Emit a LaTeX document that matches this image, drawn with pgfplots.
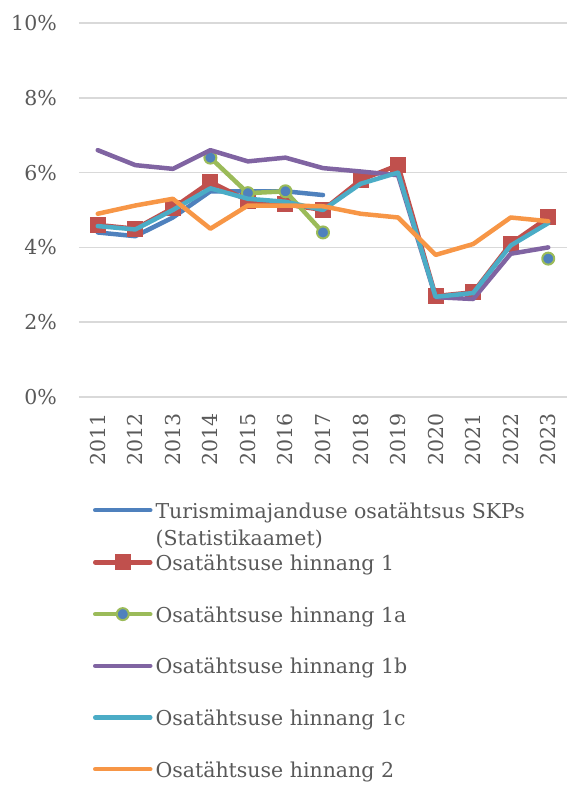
\documentclass[border=0pt]{standalone}
\usepackage{fontspec}
\setmainfont{DejaVu Serif}
\usepackage{pgfplots}
\pgfplotsset{compat=1.18}

\definecolor{sBlue}{HTML}{4F81BD}
\definecolor{sRed}{HTML}{C0504D}
\definecolor{sGreen}{HTML}{9BBB59}
\definecolor{sPurple}{HTML}{8064A2}
\definecolor{sCyan}{HTML}{4BACC6}
\definecolor{sOrange}{HTML}{F79646}
\definecolor{txt}{HTML}{595959}
\definecolor{gridc}{HTML}{D9D9D9}

\begin{document}
\begin{tikzpicture}[font=\fontsize{20.5}{27}\selectfont]
\begin{axis}[
    scale only axis, width=488pt, height=374pt,
    xmin=2010.5, xmax=2023.5, ymin=0, ymax=10,
    xtick={2011,2012,2013,2014,2015,2016,2017,2018,2019,2020,2021,2022,2023},
    xticklabels={2011,2012,2013,2014,2015,2016,2017,2018,2019,2020,2021,2022,2023},
    ytick={0,2,4,6,8,10},
    yticklabels={0\%,2\%,4\%,6\%,8\%,10\%},
    axis line style={draw=none},
    major tick length=0pt,
    ymajorgrids, grid style={color=gridc, line width=1.5pt},
    tick label style={text=txt},
    xticklabel style={rotate=90, anchor=east, inner xsep=16pt, inner ysep=0pt},
    yticklabel style={anchor=east, inner sep=0pt, xshift=-22pt},
    clip mode=individual,
    unbounded coords=jump,
    every axis plot/.append style={line width=4.5pt, line join=round, line cap=round},
    legend style={at={(0.0287,-0.284)}, anchor=north west, draw=none, fill=none,
        inner sep=0pt, outer sep=0pt, row sep=31.7pt, column sep=3pt,
        text=txt, cells={anchor=base west},
        nodes={inner sep=0pt, text height=15pt, text depth=5pt}},
    legend image code/.code={\draw[mark repeat=2, mark phase=2, #1]
        plot coordinates {(0pt,8pt) (27.5pt,8pt) (55pt,8pt)};},
]
\addplot[sBlue, mark=none] coordinates {
 (2011,4.4) (2012,4.3) (2013,4.8) (2014,5.5) (2015,5.5) (2016,5.5) (2017,5.4)};
\addlegendentry{\parbox[t]{420pt}{Turismimajanduse osatähtsus SKPs\\(Statistikaamet)}}
\addplot[sRed, mark=square*, mark size=7.5pt, mark options={line width=0pt}] coordinates {
 (2011,4.6) (2012,4.5) (2013,5.05) (2014,5.75) (2015,5.25) (2016,5.15) (2017,5.0)
 (2018,5.8) (2019,6.2) (2020,2.7) (2021,2.8) (2022,4.1) (2023,4.8)};
\addlegendentry{Osatähtsuse hinnang 1}
\addplot[sGreen, mark=*, mark size=6pt, mark options={fill=sBlue, draw=sGreen, line width=2pt}] coordinates {
 (2011,nan) (2012,nan) (2013,nan) (2014,6.4) (2015,5.45) (2016,5.5) (2017,4.4)
 (2018,nan) (2019,nan) (2020,nan) (2021,nan) (2022,nan) (2023,3.7)};
\addlegendentry{Osatähtsuse hinnang 1a}
\addplot[sPurple, mark=none] coordinates {
 (2011,6.6) (2012,6.2) (2013,6.1) (2014,6.6) (2015,6.3) (2016,6.4) (2017,6.12)
 (2018,6.03) (2019,5.93) (2020,2.67) (2021,2.62) (2022,3.83) (2023,4.0)};
\addlegendentry{Osatähtsuse hinnang 1b}
\addplot[sCyan, mark=none] coordinates {
 (2011,4.57) (2012,4.48) (2013,5.0) (2014,5.58) (2015,5.3) (2016,5.22) (2017,5.0)
 (2018,5.7) (2019,6.0) (2020,2.68) (2021,2.78) (2022,4.05) (2023,4.65)};
\addlegendentry{Osatähtsuse hinnang 1c}
\addplot[sOrange, mark=none] coordinates {
 (2011,4.9) (2012,5.12) (2013,5.3) (2014,4.5) (2015,5.12) (2016,5.12) (2017,5.1)
 (2018,4.9) (2019,4.8) (2020,3.8) (2021,4.09) (2022,4.8) (2023,4.7)};
\addlegendentry{Osatähtsuse hinnang 2}
\end{axis}
\path (-79pt,-388pt) rectangle (489pt,397pt);
\end{tikzpicture}
\end{document}
